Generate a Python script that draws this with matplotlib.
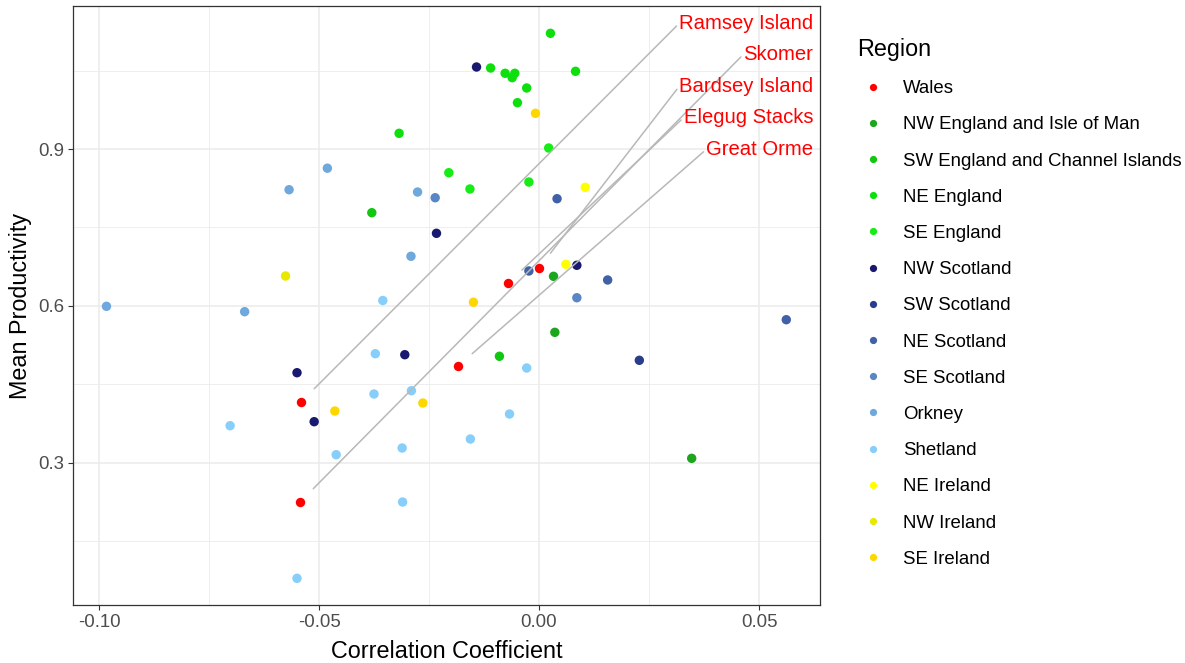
import matplotlib
matplotlib.use("Agg")
import matplotlib.pyplot as plt
from matplotlib.lines import Line2D
from matplotlib.ticker import MultipleLocator

plt.rcParams["font.family"] = ["Liberation Sans", "DejaVu Sans"]
plt.rcParams["axes.unicode_minus"] = False

# Region order and colours for the legend
regions = [
    "Wales", "NW England and Isle of Man", "SW England and Channel Islands",
    "NE England", "SE England", "NW Scotland", "SW Scotland", "NE Scotland",
    "SE Scotland", "Orkney", "Shetland", "NE Ireland", "NW Ireland", "SE Ireland",
]
region_colors = [
    "#FF0000", "#1DA61D", "#12C712", "#0EE00E", "#16EC16", "#191970", "#2A3C8C",
    "#4061A8", "#5A86C4", "#6EA8DC", "#87CEFA", "#FFFF00", "#E8E800", "#FFD700",
]

# Welsh colonies (labelled)
wales_sites = ["Ramsey Island", "Skomer", "Bardsey Island", "Elegug Stacks", "Great Orme"]
wales_corr = [-0.0541, -0.0543, 0.0000, -0.0070, -0.0184]
wales_prod = [0.4165, 0.2254, 0.6726, 0.6439, 0.4853]

# All other colonies: region, correlation coefficient, mean productivity
colony_region = (
    ["NW England and Isle of Man"] * 3
    + ["SW England and Channel Islands"] * 2
    + ["NE England"] * 9
    + ["SE England"] * 4
    + ["NW Scotland"] * 6
    + ["SW Scotland"]
    + ["NE Scotland"] * 4
    + ["SE Scotland"] * 2
    + ["Orkney"] * 6
    + ["Shetland"] * 12
    + ["NE Ireland"] * 2
    + ["NW Ireland"]
    + ["SE Ireland"] * 4
)
colony_corr = [
    0.0033, 0.0036, 0.0347,
    -0.0090, -0.0380,
    0.0026, -0.0110, -0.0077, -0.0055, -0.0061, 0.0083, -0.0028, -0.0049, -0.0318,
    0.0022, -0.0205, -0.0157, -0.0023,
    -0.0142, -0.0233, 0.0086, -0.0550, -0.0511, -0.0305,
    0.0228,
    0.0041, 0.0562, 0.0156, -0.0023,
    -0.0236, 0.0086,
    -0.0983, -0.0669, -0.0568, -0.0481, -0.0276, -0.0291,
    -0.0355, -0.0372, -0.0028, -0.0375, -0.0290, -0.0067, -0.0156, -0.0311,
    -0.0461, -0.0310, -0.0702, -0.0550,
    0.0105, 0.0061,
    -0.0576,
    -0.0008, -0.0149, -0.0264, -0.0464,
]
colony_prod = [
    0.6567, 0.5497, 0.3089,
    0.5039, 0.7783,
    1.1211, 1.0548, 1.0447, 1.0447, 1.0363, 1.0485, 1.0166, 0.9885, 0.9300,
    0.9019, 0.8547, 0.8236, 0.8369,
    1.0567, 0.7389, 0.6778, 0.4725, 0.3789, 0.5069,
    0.4962,
    0.8050, 0.5738, 0.6497, 0.6669,
    0.8069, 0.6158,
    0.5994, 0.5891, 0.8222, 0.8633, 0.8178, 0.6950,
    0.6105, 0.5088, 0.4815, 0.4318, 0.4381, 0.3936, 0.3458, 0.3286,
    0.3158, 0.2254, 0.3712, 0.0796,
    0.8268, 0.6797,
    0.6573,
    0.9682, 0.6072, 0.4146, 0.3993,
]

W, H = 1185, 663
fig = plt.figure(figsize=(W / 100, H / 100), dpi=100)
ax = fig.add_axes([73.3 / W, (H - 605) / H, (820 - 73.3) / W, 599 / H])

color_of = dict(zip(regions, region_colors))

# Non-Welsh colonies first, then Wales on top
ax.scatter(colony_corr, colony_prod, s=46, linewidths=0,
           c=[color_of[r] for r in colony_region], zorder=3)
ax.scatter(wales_corr, wales_prod, s=46, linewidths=0,
           c=color_of["Wales"], zorder=3)

# Repelled-style labels for the Welsh colonies, leader lines from the left edge
label_y = [1.1397, 1.0805, 1.0193, 0.9600, 0.8990]
for name, x, y, ly in zip(wales_sites, wales_corr, wales_prod, label_y):
    ax.annotate(name, xy=(x, y), xytext=(0.0623, ly), textcoords="data",
                ha="right", va="center", color="#FF0000", fontsize=14.6,
                arrowprops=dict(arrowstyle="-", color="#B8B8B8", lw=1.1,
                                relpos=(0.0, 0.5), patchA=None,
                                shrinkA=2.5, shrinkB=13.5),
                zorder=4)

ax.set_xlim(-0.10584, 0.06386)
ax.set_ylim(0.02861, 1.17327)
ax.xaxis.set_minor_locator(MultipleLocator(0.025))
ax.yaxis.set_minor_locator(MultipleLocator(0.15))
ax.set_xticks([-0.10, -0.05, 0.00, 0.05])
ax.set_xticklabels(["-0.10", "-0.05", "0.00", "0.05"])
ax.set_yticks([0.3, 0.6, 0.9])
ax.set_yticklabels(["0.3", "0.6", "0.9"])

ax.grid(which="major", color="#EBEBEB", lw=1.1, zorder=0)
ax.grid(which="minor", color="#EBEBEB", lw=0.6, zorder=0)
ax.set_axisbelow(True)
for sp in ax.spines.values():
    sp.set_color("#333333")
    sp.set_linewidth(0.9)
ax.tick_params(which="major", length=3.6, width=0.8, color="#333333",
               labelsize=13.4, labelcolor="#4D4D4D", pad=3)
ax.tick_params(which="minor", length=0)

ax.set_xlabel("Correlation Coefficient", fontsize=16.8, labelpad=6)
ax.set_ylabel("Mean Productivity", fontsize=16.8, labelpad=4.5)

handles = [Line2D([], [], marker="o", ls="", ms=5.2, mew=0, color=c)
           for c in region_colors]
leg = fig.legend(handles, regions, title="Region", loc="upper left",
                 bbox_to_anchor=(857 / W, 1 - 38 / H),
                 frameon=False, fontsize=13.4, title_fontsize=16.8,
                 handlelength=1.72, handletextpad=0.75, labelspacing=1.03,
                 borderpad=0, borderaxespad=0, alignment="left")

fig.savefig("out.png", dpi=100)
